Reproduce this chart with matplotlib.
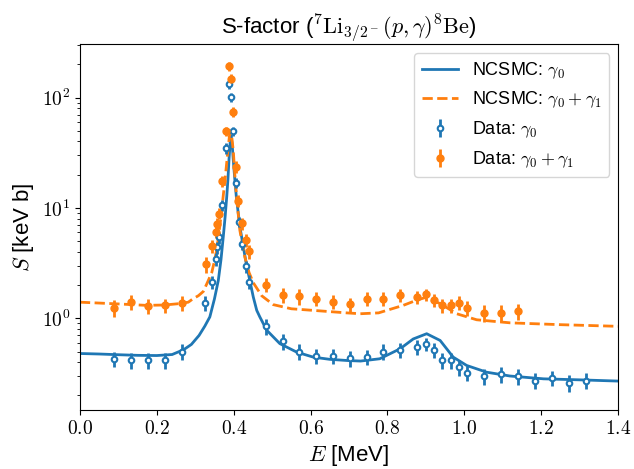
import numpy as np
import matplotlib
matplotlib.use("Agg")
import matplotlib.pyplot as plt
from matplotlib import ticker

plt.rcParams['font.family'] = ['Liberation Sans', 'DejaVu Sans']
plt.rcParams['mathtext.fontset'] = 'cm'

# NCSMC curves
curve_E_g0 = [0.000, 0.050, 0.100, 0.150, 0.200, 0.240, 0.270, 0.290, 0.310, 0.325,
              0.338, 0.350, 0.360, 0.367, 0.373, 0.378, 0.382, 0.385, 0.388, 0.391,
              0.393, 0.396, 0.399, 0.403, 0.407, 0.412, 0.418, 0.425, 0.433, 0.442,
              0.451, 0.460, 0.468, 0.486, 0.520, 0.564, 0.607, 0.650, 0.694, 0.730,
              0.780, 0.833, 0.867, 0.902, 0.937, 0.971, 1.006, 1.058, 1.119, 1.206,
              1.301, 1.400]
curve_S_g0 = [0.48, 0.475, 0.468, 0.462, 0.46, 0.47, 0.52, 0.58, 0.70, 0.85,
              1.03, 1.5, 2.2, 3.4, 5.5, 8.5, 12.7, 18, 28, 40,
              45, 38, 27, 18, 12.5, 8.9, 6.2, 4.45, 3.1, 2.2,
              1.56, 1.18, 1.03, 0.78, 0.59, 0.494, 0.445, 0.425, 0.415, 0.41,
              0.43, 0.53, 0.65, 0.725, 0.63, 0.445, 0.374, 0.325, 0.30, 0.283,
              0.277, 0.27]

curve_E_g01 = [0.000, 0.100, 0.173, 0.220, 0.260, 0.282, 0.295, 0.308, 0.321, 0.334,
               0.343, 0.350, 0.356, 0.362, 0.368, 0.374, 0.380, 0.385, 0.389, 0.392,
               0.395, 0.399, 0.403, 0.408, 0.416, 0.423, 0.429, 0.440, 0.451, 0.473,
               0.503, 0.550, 0.607, 0.694, 0.729, 0.777, 0.798, 0.841, 0.876, 0.898,
               0.937, 0.980, 1.032, 1.119, 1.249, 1.400]
curve_S_g01 = [1.40, 1.35, 1.31, 1.32, 1.36, 1.40, 1.51, 1.6, 1.75, 2.2,
               2.6, 3.3, 4.2, 6.0, 9, 14, 22, 33, 45, 48,
               44, 33, 20, 12, 6.3, 4.6, 3.6, 2.6, 2.1, 1.6,
               1.33, 1.22, 1.18, 1.12, 1.10, 1.12, 1.18, 1.31, 1.46, 1.54,
               1.36, 1.10, 0.97, 0.91, 0.876, 0.846]

# measured data
data_E_g0 = [0.089, 0.133, 0.176, 0.221, 0.265, 0.326, 0.344, 0.353, 0.357, 0.362,
             0.370, 0.379, 0.387, 0.392, 0.397, 0.405, 0.414, 0.422, 0.431, 0.440,
             0.484, 0.527, 0.571, 0.615, 0.659, 0.703, 0.746, 0.789, 0.833, 0.878,
             0.900, 0.921, 0.943, 0.965, 0.986, 1.008, 1.052, 1.096, 1.140, 1.184,
             1.227, 1.272, 1.316]
data_S_g0 = [0.43, 0.415, 0.415, 0.42, 0.50, 1.38, 2.13, 3.44, 4.4, 5.4,
             10.6, 35, 133, 101, 49.4, 16.8, 7.5, 4.7, 2.95, 2.15,
             0.85, 0.62, 0.50, 0.454, 0.454, 0.436, 0.445, 0.50, 0.52, 0.55,
             0.59, 0.52, 0.415, 0.42, 0.36, 0.32, 0.30, 0.31, 0.30, 0.273,
             0.29, 0.26, 0.273]
data_err_g0 = [0.07, 0.07, 0.07, 0.07, 0.08, 0.22, 0.3, 0.45, 0.55, 0.65,
               1.2, 4, 14, 10, 5, 1.8, 0.8, 0.5, 0.35, 0.3,
               0.14, 0.1, 0.08, 0.07, 0.07, 0.07, 0.07, 0.08, 0.08, 0.08,
               0.08, 0.08, 0.07, 0.07, 0.06, 0.05, 0.05, 0.05, 0.05, 0.045,
               0.045, 0.045, 0.045]

data_E_g01 = [0.089, 0.133, 0.176, 0.221, 0.265, 0.327, 0.343, 0.353, 0.356, 0.363,
              0.370, 0.379, 0.388, 0.392, 0.397, 0.406, 0.412, 0.422, 0.431, 0.440,
              0.484, 0.527, 0.571, 0.615, 0.659, 0.703, 0.746, 0.789, 0.833, 0.878,
              0.900, 0.921, 0.943, 0.965, 0.986, 1.008, 1.052, 1.096, 1.140]
data_S_g01 = [1.25, 1.41, 1.29, 1.31, 1.38, 3.1, 4.5, 6.1, 7.2, 8.9,
              17.4, 49.4, 193, 148, 74, 23.7, 11.6, 7.25, 5.1, 4.05,
              2.02, 1.62, 1.58, 1.51, 1.41, 1.34, 1.51, 1.51, 1.62, 1.56,
              1.65, 1.46, 1.31, 1.31, 1.39, 1.25, 1.12, 1.12, 1.16]
data_err_g01 = [0.22, 0.22, 0.2, 0.2, 0.22, 0.5, 0.6, 0.8, 0.9, 1.0,
                2, 5, 18, 15, 8, 3, 1.4, 0.9, 0.7, 0.6,
                0.3, 0.25, 0.25, 0.22, 0.2, 0.2, 0.22, 0.22, 0.22, 0.22,
                0.2, 0.2, 0.2, 0.2, 0.2, 0.2, 0.2, 0.2, 0.2]

fig = plt.figure(figsize=(6.34, 4.69), dpi=100)
ax = fig.add_axes([0.126, 0.126, 0.849, 0.78])

ax.plot(curve_E_g0, curve_S_g0, color='C0', lw=2, label=r'NCSMC: $\gamma_0$')
ax.plot(curve_E_g01, curve_S_g01, color='C1', lw=2, ls='--',
        label=r'NCSMC: $\gamma_0+\gamma_1$')
ax.errorbar(data_E_g0, data_S_g0, yerr=data_err_g0, fmt='o', color='C0',
            mfc='white', mec='C0', ms=4, mew=1.5, elinewidth=2,
            label=r'Data: $\gamma_0$')
ax.errorbar(data_E_g01, data_S_g01, yerr=data_err_g01, fmt='o', color='C1',
            ms=5, elinewidth=2, label=r'Data: $\gamma_0+\gamma_1$')

ax.set_yscale('log')
ax.set_xlim(0, 1.4)
ax.set_ylim(0.148, 305)
ax.xaxis.set_major_formatter(ticker.FuncFormatter(lambda v, p: r'$%.1f$' % v))
ax.yaxis.set_major_formatter(
    ticker.FuncFormatter(lambda v, p: r'$10^{%d}$' % round(np.log10(v))))
ax.tick_params(labelsize=14)

ax.set_xlabel(r'$E$ [MeV]', fontsize=16)
ax.set_ylabel(r'$S$ [keV b]', fontsize=16)
ax.set_title(r'S-factor ($^7\mathrm{Li}_{3/2^-}(p,\gamma)^8\mathrm{Be}$)', fontsize=16)
ax.legend(loc='upper right', fontsize=13)

fig.savefig('out.png', dpi=100)
